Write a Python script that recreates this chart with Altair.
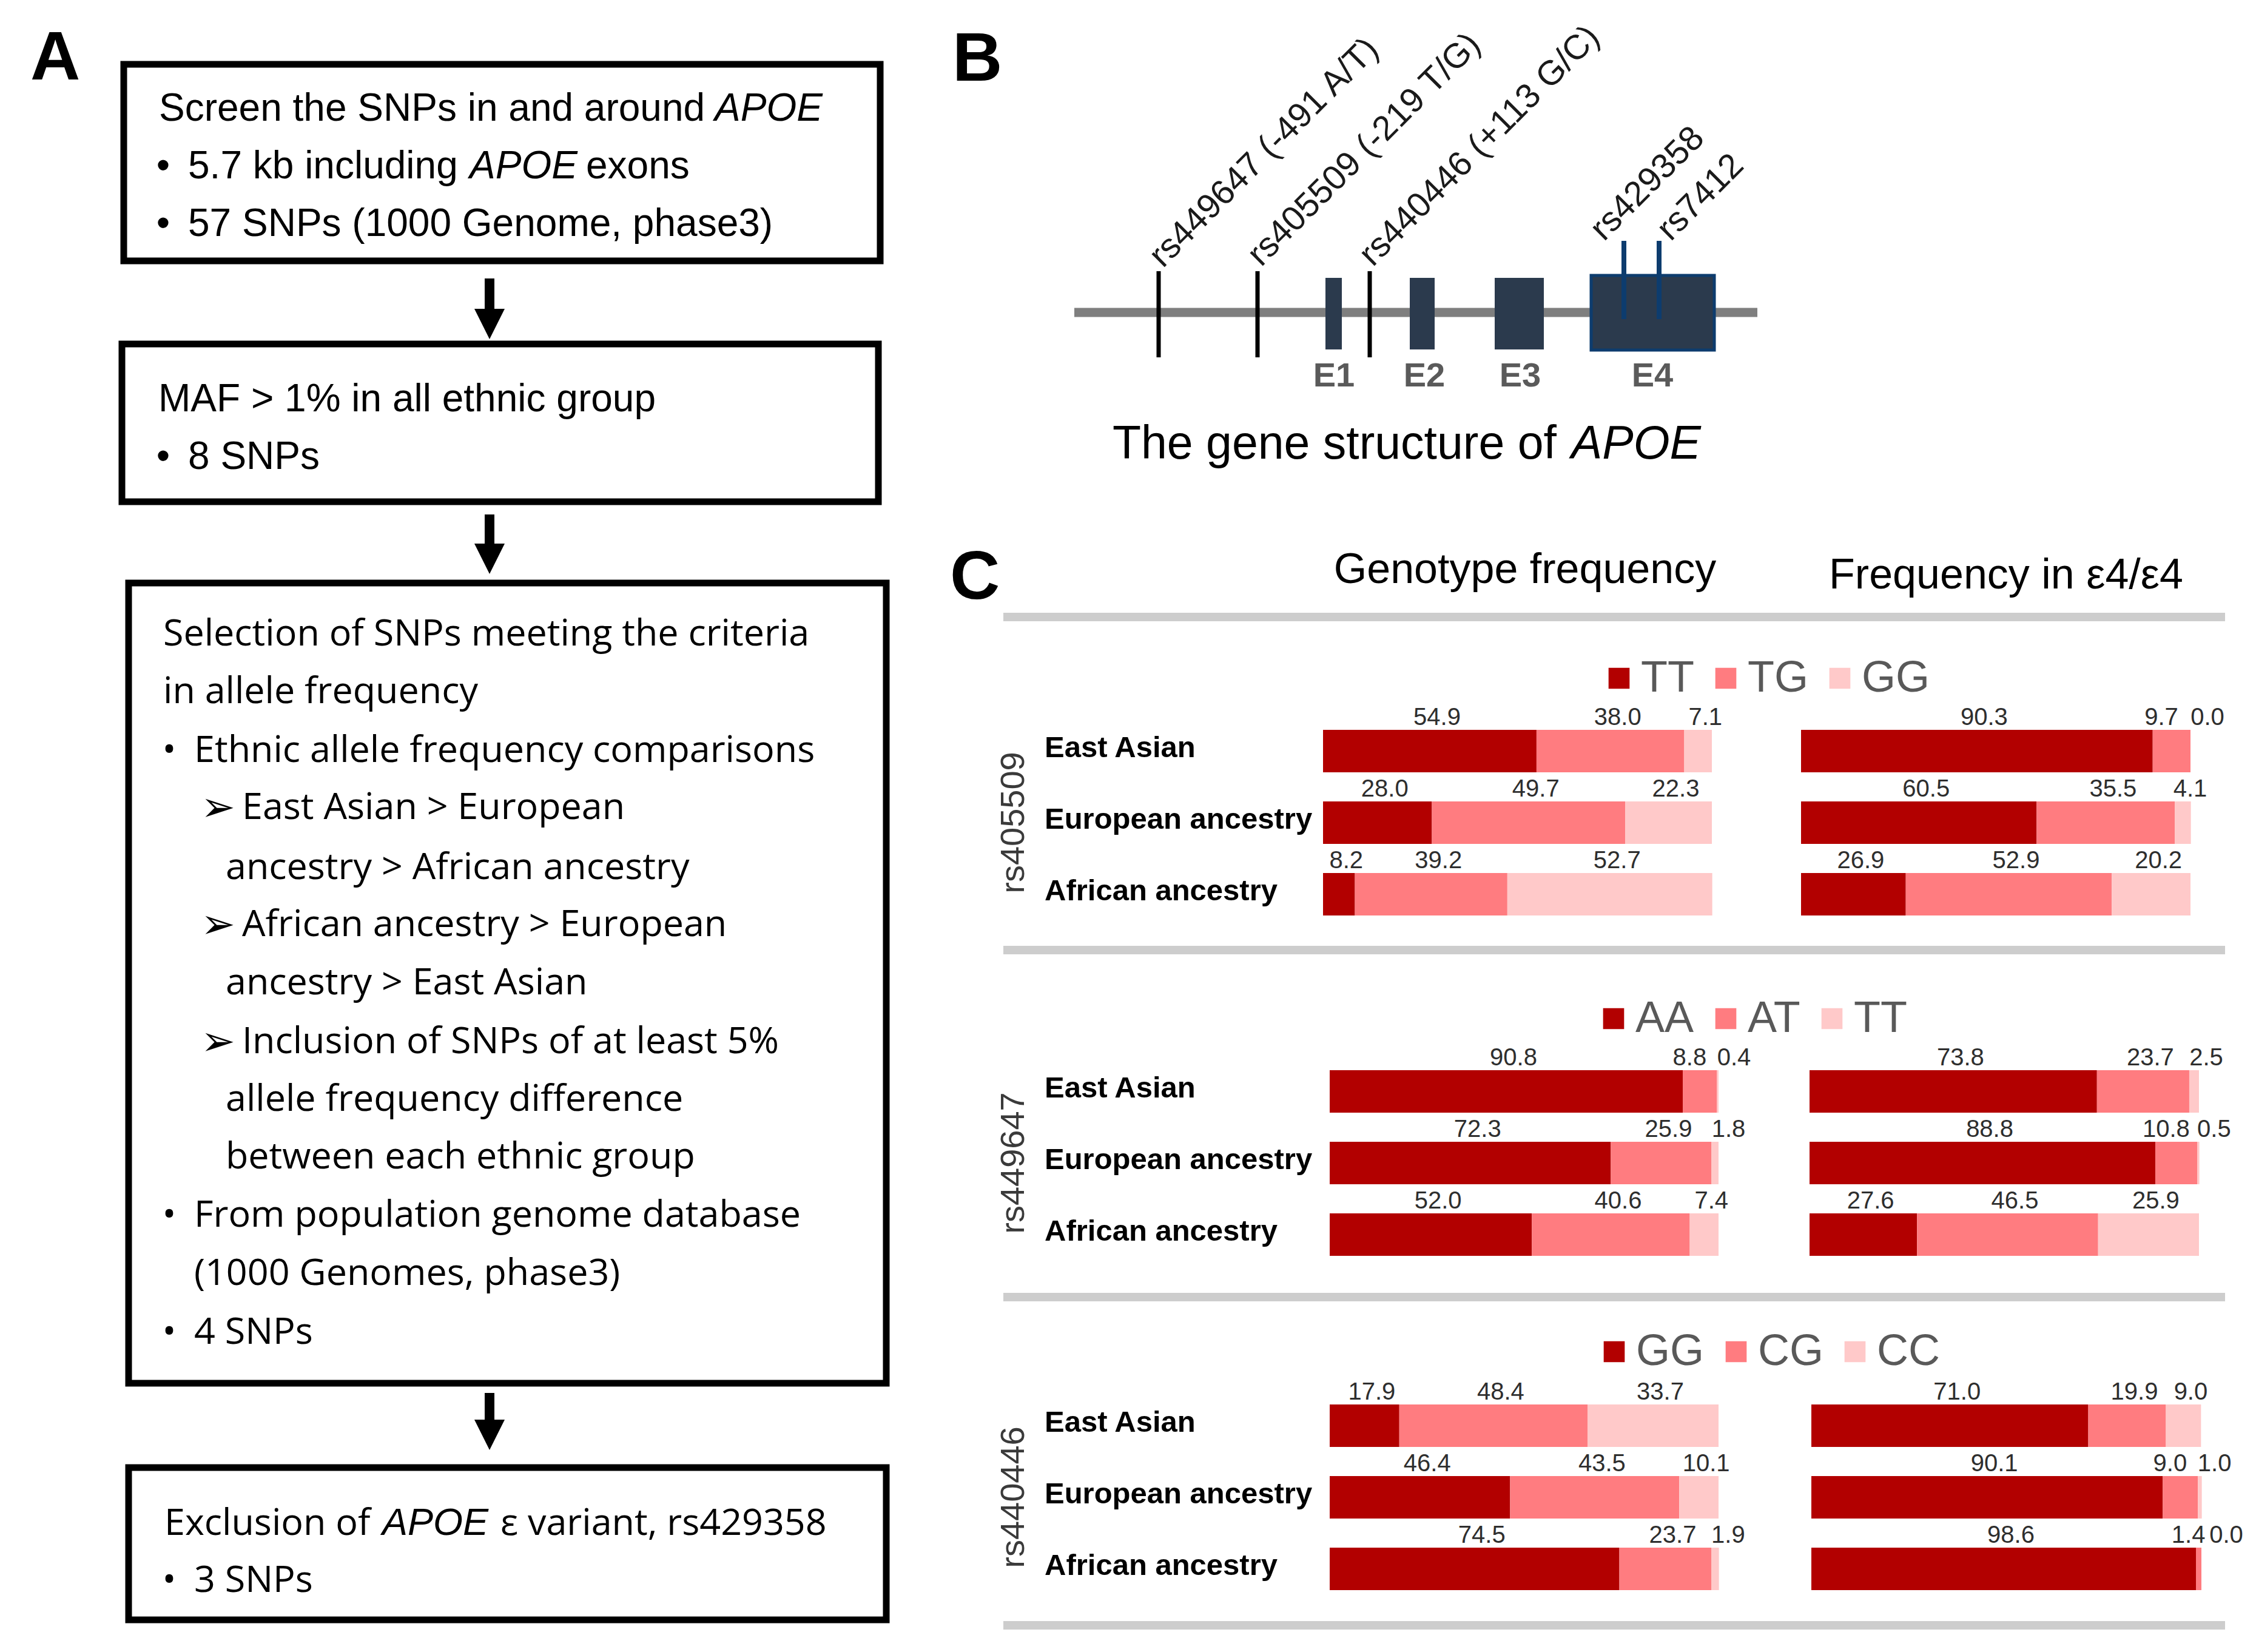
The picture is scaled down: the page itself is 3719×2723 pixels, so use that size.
import altair as alt
import pandas as pd

# ------------------------------------------------------------------ data
populations = ["East Asian", "European ancestry", "African ancestry"]
snps = ["rs405509", "rs449647", "rs440446"]
genotypes = {
    "rs405509": ["TT", "TG", "GG"],
    "rs449647": ["AA", "AT", "TT"],
    "rs440446": ["GG", "CG", "CC"],
}
# genotype frequency (%) per population, in genotype order
geno_freq = {
    "rs405509": [[54.9, 38.0, 7.1], [28.0, 49.7, 22.3], [8.2, 39.2, 52.7]],
    "rs449647": [[90.8, 8.8, 0.4], [72.3, 25.9, 1.8], [52.0, 40.6, 7.4]],
    "rs440446": [[17.9, 48.4, 33.7], [46.4, 43.5, 10.1], [74.5, 23.7, 1.9]],
}
# frequency in e4/e4 carriers (%)
e4_freq = {
    "rs405509": [[90.3, 9.7, 0.0], [60.5, 35.5, 4.1], [26.9, 52.9, 20.2]],
    "rs449647": [[73.8, 23.7, 2.5], [88.8, 10.8, 0.5], [27.6, 46.5, 25.9]],
    "rs440446": [[71.0, 19.9, 9.0], [90.1, 9.0, 1.0], [98.6, 1.4, 0.0]],
}
shades = ["#b20000", "#ff7c80", "#ffc9c9"]

box1_lines = ["Screen the SNPs in and around", "5.7 kb including", "exons",
              "57 SNPs (1000 Genome, phase3)"]
box2_lines = ["MAF > 1% in all ethnic group", "8 SNPs"]
box3_lines = ["Selection of SNPs meeting the criteria", "in allele frequency",
              "Ethnic allele frequency comparisons",
              "East Asian > European", "ancestry > African ancestry",
              "African ancestry > European", "ancestry > East Asian",
              "Inclusion of SNPs of at least 5%", "allele frequency difference",
              "between each ethnic group",
              "From population genome database", "(1000 Genomes, phase3)",
              "4 SNPs"]
box4_lines = ["Exclusion of", "\u03b5 variant, rs429358", "3 SNPs"]
gene_snp_labels = ["rs449647 (-491 A/T)", "rs405509 (-219 T/G)", "rs440446 (+113 G/C)"]
exon_snp_labels = ["rs429358", "rs7412"]
exon_names = ["E1", "E2", "E3", "E4"]
headers = ["Genotype frequency", "Frequency in \u03b54/\u03b54"]

# ------------------------------------------------------------------ layout helpers
W, H = 3703, 2707
XD = [8, 8 + W]
YD = [8, 8 + H]
FONT = "Liberation Sans, Arial, sans-serif"
FONT2 = "Open Sans, Segoe UI, sans-serif"


def LX(f):
    return alt.X(f"{f}:Q", scale=alt.Scale(domain=XD, nice=False, zero=False), axis=None)


def LY(f):
    return alt.Y(f"{f}:Q", scale=alt.Scale(domain=YD, reverse=True, nice=False, zero=False), axis=None)


def texts(rows, baseline="alphabetic", **mk):
    df = pd.DataFrame(rows, columns=["x", "y", "t"])
    return alt.Chart(df).mark_text(baseline=baseline, **mk).encode(
        x=LX("x"), y=LY("y"), text=alt.Text("t:N"))


def rects(rows, **mk):
    df = pd.DataFrame(rows, columns=["x", "x2", "y", "y2"])
    return alt.Chart(df).mark_rect(**mk).encode(x=LX("x"), x2=alt.X2("x2:Q"), y=LY("y"), y2=alt.Y2("y2:Q"))


def vrules(rows, **mk):
    df = pd.DataFrame(rows, columns=["x", "y", "y2"])
    return alt.Chart(df).mark_rule(**mk).encode(x=LX("x"), y=LY("y"), y2=alt.Y2("y2:Q"))


def hrules(rows, **mk):
    df = pd.DataFrame(rows, columns=["x", "x2", "y"])
    return alt.Chart(df).mark_rule(**mk).encode(x=LX("x"), x2=alt.X2("x2:Q"), y=LY("y"))


def points(rows, **mk):
    df = pd.DataFrame(rows, columns=["x", "y"])
    return alt.Chart(df).mark_point(**mk).encode(x=LX("x"), y=LY("y"))


layers = []

# ------------------------------------------------------------------ panel letters
layers.append(texts([(50, 131, "A"), (1570, 133, "B"), (1566, 987, "C")],
                    font=FONT, fontSize=114, fontWeight="bold", align="left", color="black"))

# ------------------------------------------------------------------ panel A : flow chart
layers.append(rects([(204, 1451, 106, 430), (201, 1448, 567, 827),
                     (212, 1461, 961, 2280), (212, 1461, 2419, 2670)],
                    fillOpacity=0, stroke="black", strokeWidth=11))
# arrows
layers.append(vrules([(807, 459, 515), (807, 848, 900), (807, 2296, 2345)],
                     strokeWidth=16, color="black"))
layers.append(points([(807, 534), (807, 921), (807, 2365)],
                     shape="M-1,-1L1,-1L0,1Z", size=2500, filled=True, color="black",
                     opacity=1, strokeWidth=0))

f1 = dict(font=FONT, fontSize=64, align="left", color="black")
layers.append(texts([(262, 199, box1_lines[0]), (310, 294, box1_lines[1]),
                     (966, 294, box1_lines[2]), (310, 389, box1_lines[3]),
                     (261, 678, box2_lines[0]), (310, 773, box2_lines[1])], **f1))
layers.append(texts([(1178, 199, "APOE"), (774, 294, "APOE")], fontStyle="italic", **f1))
layers.append(texts([(269, 294, "\u2022"), (269, 389, "\u2022"), (269, 773, "\u2022")],
                    font=FONT, fontSize=64, align="center", color="black"))

b3y = [1064, 1159, 1256, 1350, 1449, 1543, 1639, 1736, 1831, 1926, 2022, 2118, 2215]
b3x = [269, 269, 320, 399, 372, 399, 372, 399, 372, 372, 320, 320, 320]
f2 = dict(font=FONT2, fontSize=61, align="left", color="black")
layers.append(texts([(x, y, t) for x, y, t in zip(b3x, b3y, box3_lines)] +
                    [(271, 2530, box4_lines[0]), (825, 2530, box4_lines[1]),
                     (320, 2624, box4_lines[2])], **f2))
layers.append(texts([(630, 2530, "APOE")], font=FONT, fontSize=63, fontStyle="italic",
                    align="left", color="black"))
layers.append(texts([(279, b3y[2], "\u2022"), (279, b3y[10], "\u2022"),
                     (279, b3y[12], "\u2022"), (279, 2624, "\u2022")],
                    font=FONT2, fontSize=61, align="center", color="black"))
layers.append(texts([(331, b3y[3] + 3, "\u27a2"), (331, b3y[5] + 3, "\u27a2"),
                     (331, b3y[7] + 3, "\u27a2")],
                    font="DejaVu Sans", fontSize=68, align="left", color="black"))

# ------------------------------------------------------------------ panel B : gene structure
layers.append(hrules([(1771, 2897, 515)], strokeWidth=15, color="#7f7f7f"))
layers.append(vrules([(1910, 447, 589), (2073, 447, 589), (2258, 447, 589)],
                     strokeWidth=7, color="black"))
layers.append(rects([(2185, 2212, 458, 576), (2324, 2365, 458, 576), (2464, 2545, 458, 576)],
                    fill="#2b3a4d"))
layers.append(rects([(2623, 2826, 454, 577)], fill="#2b3a4d", stroke="#0d3c6e", strokeWidth=5))
layers.append(vrules([(2677, 397, 526), (2735, 397, 526)], strokeWidth=8, color="#0d3c6e"))
layers.append(texts([(x, 637, t) for x, t in zip([2199, 2348, 2506, 2724], exon_names)],
                    font=FONT, fontSize=56, fontWeight="bold", align="center", color="#5a5a5a"))
layers.append(texts([(1905, 431, gene_snp_labels[0]), (2067, 429, gene_snp_labels[1]),
                     (2251, 429, gene_snp_labels[2]), (2632, 387, exon_snp_labels[0]),
                     (2742, 387, exon_snp_labels[1])], baseline="middle",
                    font=FONT, fontSize=57, angle=315, align="left", color="#1a1a1a"))
layers.append(texts([(1834, 756, "The gene structure of")], font=FONT, fontSize=77,
                    align="left", color="black"))
layers.append(texts([(2590, 756, "APOE")], font=FONT, fontSize=77, fontStyle="italic",
                    align="left", color="black"))

# ------------------------------------------------------------------ panel C : headers, separators
layers.append(texts([(2514, 961, headers[0]), (3307, 970, headers[1])],
                    font=FONT, fontSize=70, align="center", color="black"))
layers.append(hrules([(1654, 3668, 1017), (1654, 3668, 1566), (1654, 3668, 2138),
                      (1654, 3668, 2679)], strokeWidth=14, color="#cdcdcd"))

# ------------------------------------------------------------------ panel C : stacked bars
panel_layout = {
    "rs405509": dict(left=(2181, 2822), right=(2969, 3611), rows=(1238, 1355, 1474), leg=(2625, 1074)),
    "rs449647": dict(left=(2192, 2833), right=(2983, 3625), rows=(1799, 1916, 2035), leg=(2616, 1635)),
    "rs440446": dict(left=(2192, 2833), right=(2986, 3629), rows=(2350, 2468, 2586), leg=(2617, 2184)),
}


def bar_panel(snp, table, x0, x1, centers, left, leg_xy):
    gts = genotypes[snp]
    rows = []
    for pop, vals in zip(populations, table[snp]):
        cum = 0.0
        for gi, (g, v) in enumerate(zip(gts, vals)):
            mid = cum + v / 2
            lx = mid
            if gi == 2 and v < 3:
                lx = max(mid, 99.5 + (3 - v)) + (2.0 if vals[1] < 3 else 0.0)
            elif gi == 1 and vals[2] < 3 and v < 15:
                lx = mid - 4.5
            rows.append(dict(pop=pop, geno=g, v0=cum, v1=cum + v, lx=lx, lab=f"{v:.1f}"))
            cum += v
    df = pd.DataFrame(rows)
    step = (centers[2] - centers[0]) / 2
    xs = alt.Scale(domain=[0, 100], range=[x0 - 8, x1 - 8], nice=False, zero=False)
    ys = alt.Scale(domain=populations, range=[centers[0] - step / 2 - 8, centers[2] + step / 2 - 8],
                   paddingInner=0.407, paddingOuter=0.2035)
    if left:
        leg = alt.Legend(orient="none", legendX=leg_xy[0], legendY=leg_xy[1], direction="horizontal",
                         title=None, symbolType="square", symbolSize=1200, symbolStrokeWidth=0,
                         labelFont=FONT, labelFontSize=72, labelColor="#595959", labelOffset=0,
                         columnPadding=16, padding=0, labelLimit=400)
    else:
        leg = None
    bars = alt.Chart(df).mark_bar(strokeWidth=0).encode(
        x=alt.X("v0:Q", scale=xs, axis=None), x2=alt.X2("v1:Q"),
        y=alt.Y("pop:N", scale=ys, axis=None),
        color=alt.Color("geno:N", scale=alt.Scale(domain=gts, range=shades), legend=leg))
    vlab = alt.Chart(df).mark_text(font=FONT, fontSize=40, color="#2e2e2e", align="center",
                                   baseline="alphabetic", dx=12, dy=-43).encode(
        x=alt.X("lx:Q", scale=xs, axis=None), y=alt.Y("pop:N", scale=ys, axis=None),
        text=alt.Text("lab:N"))
    parts = [bars, vlab]
    if left:
        rl = alt.Chart(pd.DataFrame({"pop": populations})).mark_text(
            font=FONT, fontSize=49, fontWeight="bold", align="left", baseline="middle",
            color="black", dy=-5).encode(
            x=alt.value(1722 - 8), y=alt.Y("pop:N", scale=ys, axis=None), text=alt.Text("pop:N"))
        sl = alt.Chart(pd.DataFrame({"pop": [populations[1]], "t": [snp]})).mark_text(
            font=FONT, fontSize=56, angle=270, align="center", baseline="middle",
            color="#3a3a3a").encode(
            x=alt.value(1671 - 8), y=alt.Y("pop:N", scale=ys, axis=None), text=alt.Text("t:N"))
        parts += [rl, sl]
    return alt.layer(*parts)


for snp in snps:
    lay = panel_layout[snp]
    layers.append(bar_panel(snp, geno_freq, lay["left"][0], lay["left"][1], lay["rows"], True, lay["leg"]))
    layers.append(bar_panel(snp, e4_freq, lay["right"][0], lay["right"][1], lay["rows"], False, lay["leg"]))

chart = alt.layer(*layers).resolve_scale(
    x="independent", y="independent", color="independent"
).properties(
    width=W, height=H, padding=0, autosize=alt.AutoSizeParams(type="none"), background="white"
).configure_view(stroke=None)

chart.save("out.html", embed_options={"renderer": "svg", "actions": False})
